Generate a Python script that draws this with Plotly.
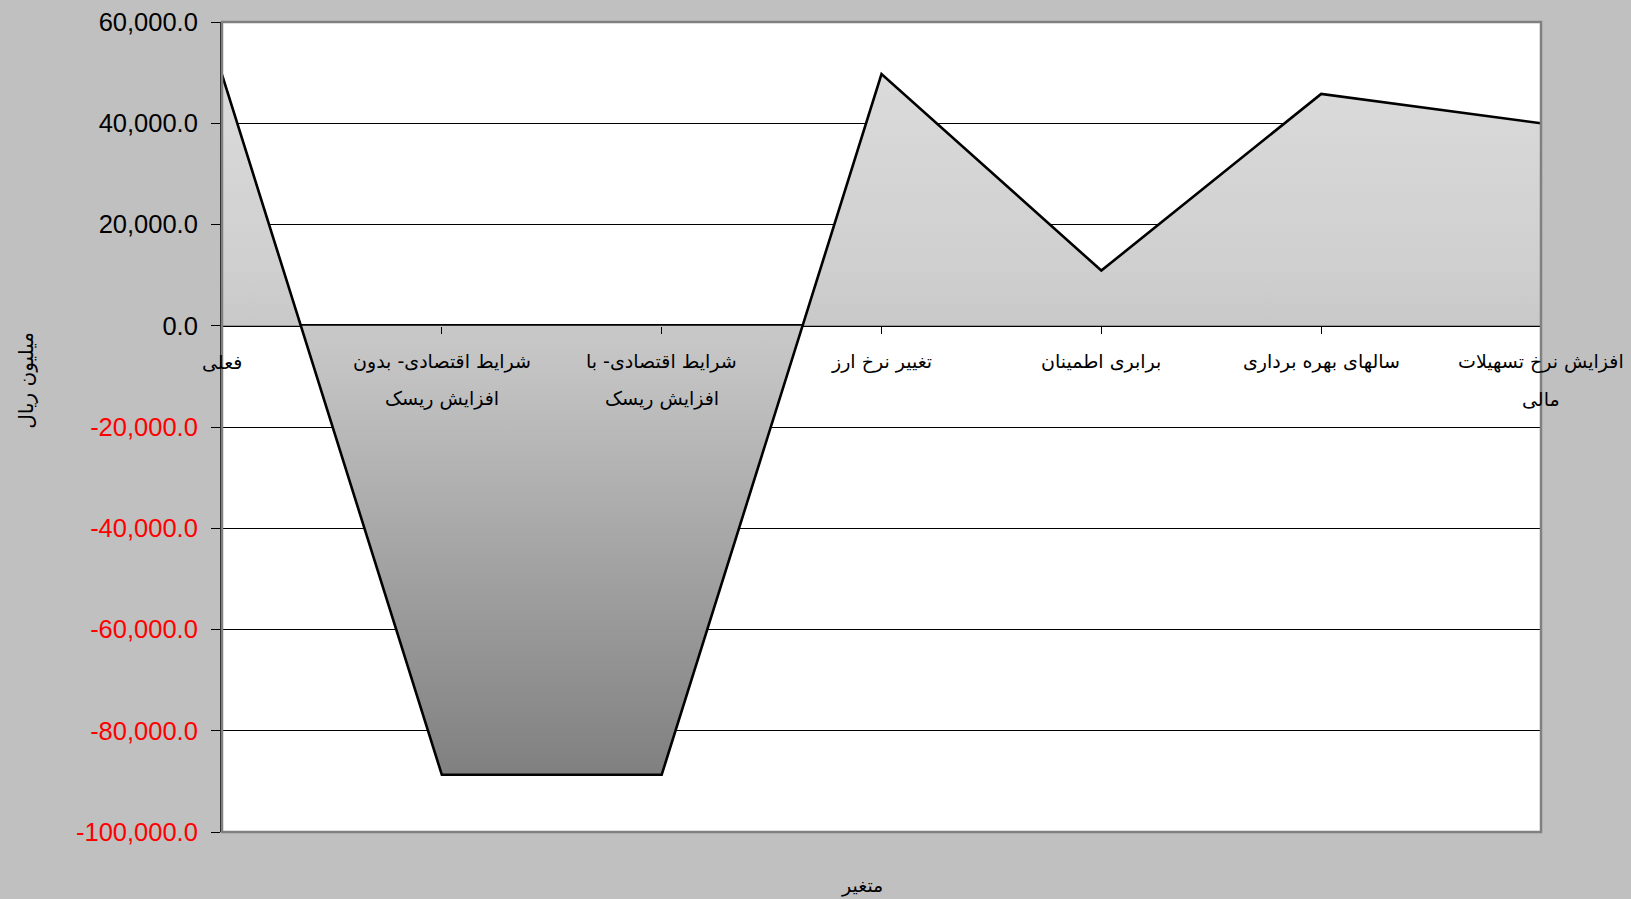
import plotly.graph_objects as go

# Scenario names and the resulting value (million rials)
categories = [
    "فعلی",
    "شرایط اقتصادی- بدون افزایش ریسک",
    "شرایط اقتصادی- با افزایش ریسک",
    "تغییر نرخ ارز",
    "برابری اطمینان",
    "سالهای بهره برداری",
    "افزایش نرخ تسهیلات مالی",
]
label_lines = [
    ["فعلی"],
    ["شرایط اقتصادی- بدون", "افزایش ریسک"],
    ["شرایط اقتصادی- با", "افزایش ریسک"],
    ["تغییر نرخ ارز"],
    ["برابری اطمینان"],
    ["سالهای بهره برداری"],
    ["افزایش نرخ تسهیلات", "مالی"],
]
values = [49600, -88700, -88700, 49700, 10900, 45800, 40000]

y_ticks = [60000, 40000, 20000, 0, -20000, -40000, -60000, -80000, -100000]
y_title = "میلیون ریال"
x_title = "متغیر"

Y_MIN, Y_MAX = -100000, 60000


def tick_label(v):
    s = f"{v:,.1f}"
    if v < 0:
        return f'<span style="color:#ff0000">{s}</span>'
    return s


fig = go.Figure()
fig.add_trace(
    go.Scatter(
        x=categories,
        y=values,
        mode="lines",
        fill="tozeroy",
        fillgradient=dict(
            type="vertical",
            colorscale=[
                [0.0, "#808080"],
                [0.57, "#c2c2c2"],
                [0.72, "#cfcfcf"],
                [1.0, "#dbdbdb"],
            ],
        ),
        line=dict(color="#000000", width=2.6),
        hoverinfo="x+y",
        showlegend=False,
    )
)

# Category labels under the zero line, one annotation per text line
annotations = []
for cat, lines in zip(categories, label_lines):
    for i, line in enumerate(lines):
        annotations.append(
            dict(
                x=cat,
                xref="x",
                y=0,
                yref="y",
                text=line,
                showarrow=False,
                xanchor="center",
                yanchor="middle",
                yshift=-36 - 37 * i,
                font=dict(family="DejaVu Sans", size=19, color="#000000"),
            )
        )

annotations.append(
    dict(
        x=-0.1486,
        xref="paper",
        y=0.5584,
        yref="paper",
        text=y_title,
        textangle=-90,
        showarrow=False,
        xanchor="center",
        yanchor="middle",
        font=dict(family="DejaVu Sans", size=20, color="#000000"),
    )
)
annotations.append(
    dict(
        x=0.4852,
        xref="paper",
        y=-0.0663,
        yref="paper",
        text=x_title,
        showarrow=False,
        xanchor="center",
        yanchor="middle",
        font=dict(family="DejaVu Sans", size=19, color="#000000"),
    )
)

zero_frac = (0 - Y_MIN) / (Y_MAX - Y_MIN)

fig.update_layout(
    width=1631,
    height=899,
    margin=dict(l=222, r=90, t=22, b=67, pad=0, autoexpand=False),
    paper_bgcolor="#c0c0c0",
    plot_bgcolor="#ffffff",
    annotations=annotations,
    shapes=[
        dict(
            type="rect",
            xref="paper",
            yref="paper",
            x0=0,
            x1=1,
            y0=0,
            y1=1,
            line=dict(color="#808080", width=2.5),
            layer="above",
        )
    ],
    xaxis=dict(
        type="category",
        categoryorder="array",
        categoryarray=categories,
        range=[0, len(categories) - 1],
        anchor="free",
        position=zero_frac,
        automargin=False,
        showgrid=False,
        showline=False,
        zeroline=False,
        ticks="outside",
        ticklen=7,
        tickwidth=1,
        tickcolor="#000000",
        showticklabels=False,
    ),
    yaxis=dict(
        range=[Y_MIN, Y_MAX],
        automargin=False,
        tickvals=y_ticks,
        ticktext=[tick_label(v) for v in y_ticks],
        tickfont=dict(family="Liberation Sans, Arial", size=25.5, color="#000000"),
        ticklabelstandoff=8,
        showgrid=True,
        gridcolor="#000000",
        gridwidth=1,
        zeroline=True,
        zerolinecolor="#000000",
        zerolinewidth=2.6,
        showline=True,
        linecolor="#1a1a1a",
        linewidth=2,
        ticks="outside",
        ticklen=9,
        tickwidth=1,
        tickcolor="#000000",
        layer="below traces",
    ),
)

fig.write_html("out.html")
